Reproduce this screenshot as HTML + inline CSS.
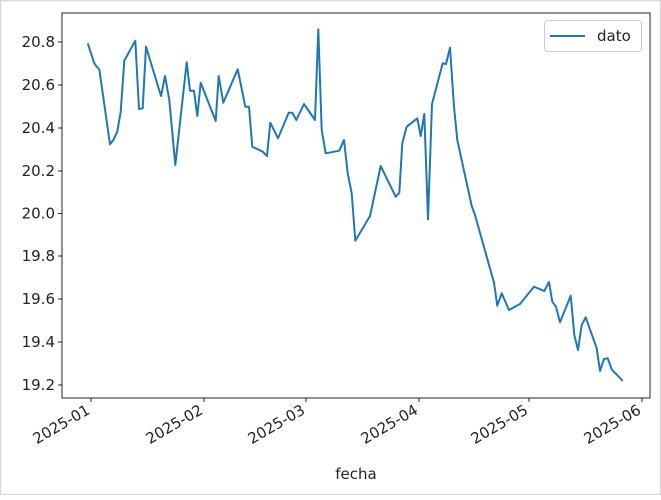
<!DOCTYPE html>
<html><head><meta charset="utf-8"><style>body{margin:0;background:#fff}</style></head><body>
<svg width="661" height="495" xmlns="http://www.w3.org/2000/svg" font-family="DejaVu Sans, Liberation Sans, sans-serif" font-size="15" fill="#222">
<rect x="0.5" y="0.5" width="660" height="494" fill="#fff" stroke="#d8d8d8" stroke-width="1.5"/>
<polyline fill="none" stroke="#1f77b4" stroke-width="2" stroke-linejoin="round" points="87.7,43.3 94.3,63.3 96.7,66.7 99.3,69.3 110,144.3 113.3,140 117.3,131.7 120.7,111.7 124.3,60.7 135.3,40.7 139,109 142.7,108.3 146,46.7 161,96 165,76 169.3,100 175.3,165 186.7,62.3 190,90.7 194,90.7 197.3,116 200.7,82.7 215.7,121 218.7,76 223.3,102.7 237.7,69.3 245.3,106.7 249,106.7 252.3,146.7 262.7,151.7 267,156 270.3,122.7 278,138.3 288.7,112.7 292.3,112.7 296.3,120 304,104 315,120 318.3,29.3 321.7,130 325.7,153.3 339.3,150.7 344,140 347.7,173.3 351.7,193.3 355.3,240.7 370,216 380.7,166 395.7,196.7 399.3,192.7 402.3,143.3 406.7,126.7 417.3,118.3 420.7,136 424.3,114 428,219.3 432,104 442.7,63.3 446,64 450,47.7 454,106.7 457.3,140 471.7,206 475,215 494,282.7 497.3,305.7 501.7,293.3 509,310 520,304 534,286.7 544.3,291 549,282 552.3,301.7 556,306.7 560,322.3 570.7,295.7 574.3,335 578,350 581.7,325 585.7,317.3 596.7,348.3 600,371 604,359 607.7,358.3 611.7,369.3 622.7,381"/>
<rect x="62" y="13" width="588" height="385" fill="none" stroke="#222" stroke-width="1"/>
<g stroke="#222" stroke-width="1">
<line x1="58" x2="62" y1="42" y2="42"/><line x1="58" x2="62" y1="85" y2="85"/><line x1="58" x2="62" y1="128" y2="128"/><line x1="58" x2="62" y1="171" y2="171"/><line x1="58" x2="62" y1="213.5" y2="213.5"/><line x1="58" x2="62" y1="256" y2="256"/><line x1="58" x2="62" y1="299" y2="299"/><line x1="58" x2="62" y1="342" y2="342"/><line x1="58" x2="62" y1="385" y2="385"/>
<line x1="91" x2="91" y1="398" y2="402"/><line x1="204" x2="204" y1="398" y2="402"/><line x1="306" x2="306" y1="398" y2="402"/><line x1="419" x2="419" y1="398" y2="402"/><line x1="529" x2="529" y1="398" y2="402"/><line x1="642" x2="642" y1="398" y2="402"/>
</g>
<g text-anchor="end">
<text x="55" y="47">20.8</text><text x="55" y="90">20.6</text><text x="55" y="133">20.4</text><text x="55" y="176">20.2</text><text x="55" y="218.5">20.0</text><text x="55" y="261">19.8</text><text x="55" y="304">19.6</text><text x="55" y="347">19.4</text><text x="55" y="390">19.2</text>
<text transform="translate(91,413) rotate(-30)">2025-01</text>
<text transform="translate(204,413) rotate(-30)">2025-02</text>
<text transform="translate(306,413) rotate(-30)">2025-03</text>
<text transform="translate(419,413) rotate(-30)">2025-04</text>
<text transform="translate(529,413) rotate(-30)">2025-05</text>
<text transform="translate(642,413) rotate(-30)">2025-06</text>
</g>
<text x="356" y="479" text-anchor="middle">fecha</text>
<rect x="544.5" y="20.5" width="97" height="31" rx="3" fill="#fff" stroke="#ccc"/>
<line x1="550" x2="585" y1="36" y2="36" stroke="#1f77b4" stroke-width="2"/>
<text x="597" y="41">dato</text>
</svg>
</body></html>
